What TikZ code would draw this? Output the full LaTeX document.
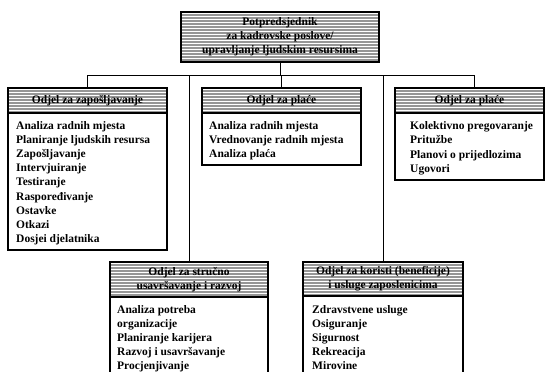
\documentclass[tikz,border=0pt]{standalone}
\usepackage{fontspec}
\setmainfont{Liberation Serif}
\definecolor{stripegray}{RGB}{150,150,150}
\begin{document}
\begin{tikzpicture}[x=1pt,y=-1pt,
  every node/.style={font=\fontsize{11.5}{14.2}\selectfont\bfseries},
  frame/.style={draw=black, line width=1.3pt, rectangle, inner sep=0pt, outer sep=0pt, fill=white},
  hdr/.style={frame, fill=stripegray, align=center,
    path picture={\foreach \k in {0,...,24}{
      \draw[white, line width=0.9pt]
        ([yshift=-\k*3pt-1.5pt]path picture bounding box.north west) --
        ([yshift=-\k*3pt-1.5pt]path picture bounding box.north east);}}},
  lbl/.style={align=left, inner sep=0pt, anchor=north west},
  link/.style={line width=1pt}]
\clip (0,0) rectangle (547,372);
\useasboundingbox (0,0) rectangle (547,372);

% top position
\node[hdr, minimum width=198, minimum height=50, anchor=north west] (top) at (181,12)
  {Potpredsjednik\\za kadrovske poslove/\\upravljanje ljudskim resursima};

% first row of departments
\node[frame, minimum width=159, minimum height=162, anchor=north west] (box1) at (8,88) {};
\node[hdr, minimum width=159, minimum height=25, anchor=north west] (h1) at (box1.north west) {Odjel za zapošljavanje};
\node[lbl] (t1) at (16,121) {Analiza radnih mjesta\\Planiranje ljudskih resursa\\Zapošljavanje\\Intervjuiranje\\Testiranje\\Raspoređivanje\\Ostavke\\Otkazi\\Dosjei djelatnika};

\node[frame, minimum width=159, minimum height=77, anchor=north west] (box2) at (202,88) {};
\node[hdr, minimum width=159, minimum height=25, anchor=north west] (h2) at (box2.north west) {Odjel za plaće};
\node[lbl] (t2) at (209,121) {Analiza radnih mjesta\\Vrednovanje radnih mjesta\\Analiza plaća};

\node[frame, minimum width=149, minimum height=92, anchor=north west] (box3) at (395,88) {};
\node[hdr, minimum width=149, minimum height=25, anchor=north west] (h3) at (box3.north west) {Odjel za plaće};
\node[lbl] (t3) at (410,121.5) {Kolektivno pregovaranje\\Pritužbe\\Planovi o prijedlozima\\Ugovori};

% second row of departments
\node[frame, minimum width=158, minimum height=130, anchor=north west] (box4) at (110,262) {};
\node[hdr, minimum width=158, minimum height=35, anchor=north west] (h4) at (box4.north west) {Odjel za stručno\\usavršavanje i razvoj};
\node[lbl] (t4) at (117,305) {Analiza potreba\\organizacije\\Planiranje karijera\\Razvoj i usavršavanje\\Procjenjivanje};

\node[frame, minimum width=160, minimum height=130, anchor=north west] (box5) at (303,262) {};
\node[hdr, minimum width=160, minimum height=34, anchor=north west] (h5) at (box5.north west) {Odjel za koristi (beneficije)\\i usluge zaposlenicima};
\node[lbl] (t5) at (312,305) {Zdravstvene usluge\\Osiguranje\\Sigurnost\\Rekreacija\\Mirovine};

% connectors
\coordinate (bus) at (279,75);
\coordinate (drop3) at ([xshift=5pt]box3.north);
\draw[link] (top.south) -- (top.south |- bus);
\draw[link] (box1.north) |- (drop3 |- bus) -- (drop3);
\draw[link] (box2.north) -- (box2.north |- bus);
\draw[link] (box4.north) -- (box4.north |- bus);
\draw[link] (box5.north) -- (box5.north |- bus);
\end{tikzpicture}
\end{document}
